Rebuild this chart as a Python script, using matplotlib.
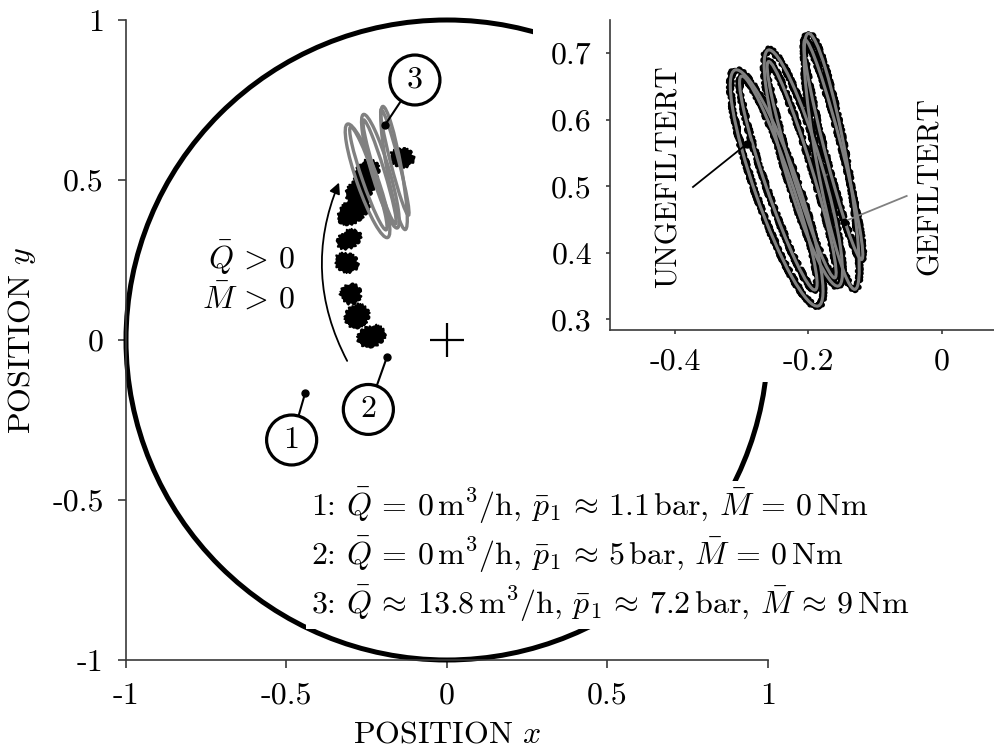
import matplotlib
matplotlib.use("Agg")
import matplotlib.pyplot as plt
from matplotlib.patches import Circle, Ellipse, FancyArrowPatch

plt.rcParams['font.family'] = 'cmr10'
plt.rcParams['mathtext.fontset'] = 'cm'
plt.rcParams['axes.unicode_minus'] = False
plt.rcParams['axes.formatter.use_mathtext'] = True

FS = 23
AXCOL = '#3a3a3a'
GRAY = '#808080'

# Measured trajectory blobs while ramping Q and M (centre, spread, tilt)
blob_x = [-0.305, -0.313, -0.300, -0.280, -0.235, -0.290, -0.270, -0.250, -0.140]
blob_y = [0.315, 0.242, 0.144, 0.075, 0.012, 0.405, 0.470, 0.520, 0.570]
blob_w = [0.075, 0.055, 0.060, 0.075, 0.085, 0.110, 0.095, 0.090, 0.055]
blob_h = [0.050, 0.070, 0.060, 0.065, 0.060, 0.065, 0.060, 0.065, 0.070]
blob_angle = [30, 70, 60, 45, 20, 40, 35, 60, 80]

# Operating point 3: orbit loops (centre, major axis, minor axis, tilt)
loop_cx = [-0.2475, -0.2450, -0.2075, -0.2100, -0.1650, -0.1625]
loop_cy = [0.4975, 0.5050, 0.5275, 0.5250, 0.5375, 0.5550]
loop_len = [0.376, 0.340, 0.370, 0.340, 0.391, 0.341]
loop_wid = [0.065, 0.038, 0.055, 0.030, 0.045, 0.026]
loop_ang = [-70.6, -71.0, -73.5, -73.0, -79.7, -75.6]

# Operating points and their labels
op_x = [-0.442, -0.187, -0.193]
op_y = [-0.166, -0.053, 0.672]
op_label_x = [-0.484, -0.245, -0.100]
op_label_y = [-0.3125, -0.217, 0.8125]
op_names = ['1', '2', '3']

legend_lines = [
    r'1: $\bar{Q}\,=\,0\,\mathrm{m}^3/\mathrm{h}$, $\bar{p}_1\,\approx\,1.1\,\mathrm{bar}$, $\bar{M}\,=\,0\,\mathrm{Nm}$',
    r'2: $\bar{Q}\,=\,0\,\mathrm{m}^3/\mathrm{h}$, $\bar{p}_1\,\approx\,5\,\mathrm{bar}$, $\bar{M}\,=\,0\,\mathrm{Nm}$',
    r'3: $\bar{Q}\,\approx\,13.8\,\mathrm{m}^3/\mathrm{h}$, $\bar{p}_1\,\approx\,7.2\,\mathrm{bar}$, $\bar{M}\,\approx\,9\,\mathrm{Nm}$',
]

main_ticks = [-1, -0.5, 0, 0.5, 1]
main_ticklabels = ['-1', '-0.5', '0', '0.5', '1']
inset_xticks = [-0.4, -0.2, 0]
inset_xticklabels = ['-0.4', '-0.2', '0']
inset_yticks = [0.3, 0.4, 0.5, 0.6, 0.7]
inset_yticklabels = ['0.3', '0.4', '0.5', '0.6', '0.7']

W, H = 995, 755
fig = plt.figure(figsize=(W / 100, H / 100), dpi=100)


def style_axes(a, tick_len, pad):
    for s in ['top', 'right']:
        a.spines[s].set_visible(False)
    for s in ['left', 'bottom']:
        a.spines[s].set_color(AXCOL)
        a.spines[s].set_linewidth(1.2)
    a.tick_params(direction='out', length=tick_len, width=1.2, color=AXCOL,
                  labelsize=FS, pad=pad)


# ---- main plot ----
ax = fig.add_axes([126 / W, 95 / H, 642 / W, 640 / H], zorder=1)
ax.set_xlim(-1, 1)
ax.set_ylim(-1, 1)
style_axes(ax, 6, 10)
ax.set_xticks(main_ticks)
ax.set_xticklabels(main_ticklabels)
ax.set_yticks(main_ticks)
ax.set_yticklabels(main_ticklabels)

ax.add_patch(Circle((0, 0), 1, fill=False, ec='black', lw=3.6, clip_on=False, zorder=2))
ax.plot(0, 0, '+', ms=24, mew=1.6, color='black', zorder=3)

for x, y, w, h, a in zip(blob_x, blob_y, blob_w, blob_h, blob_angle):
    e = Ellipse((x, y), w, h, angle=a, fc='black', ec='black', lw=1.5, zorder=3)
    e.set_sketch_params(1.5, 4, 3)
    e.set_joinstyle('round')
    ax.add_patch(e)

for cx, cy, l, wd, a in zip(loop_cx, loop_cy, loop_len, loop_wid, loop_ang):
    ax.add_patch(Ellipse((cx, cy), l, wd, angle=a, fill=False, ec=GRAY, lw=2.4, zorder=4))

arrow = FancyArrowPatch((-0.307, -0.073), (-0.333, 0.50), connectionstyle='arc3,rad=-0.24',
                        arrowstyle='-|>', mutation_scale=16, lw=1.3, color='black', zorder=3)
ax.add_patch(arrow)
ax.text(-0.474, 0.20, '$\\bar{Q}\\,>\\,0$\n$\\bar{M}\\,>\\,0$', ha='right', va='center',
        fontsize=FS, multialignment='right', linespacing=1.2)

for px, py, lx, ly, name in zip(op_x, op_y, op_label_x, op_label_y, op_names):
    ax.plot([px, lx], [py, ly], color='black', lw=1.5, zorder=5)
    ax.plot(px, py, 'o', ms=5, color='black', zorder=6)
    ax.add_patch(Circle((lx, ly), 0.078, fc='white', ec='black', lw=2.3, zorder=7))
    ax.text(lx, ly, name, ha='center', va='center', fontsize=FS, zorder=8)

ax.text(-0.425, -0.672, '\n'.join(legend_lines), ha='left', va='center', fontsize=FS,
        linespacing=1.3, zorder=9,
        bbox=dict(boxstyle='square,pad=0.15', fc='white', ec='none'))

fig.text(447 / W, 1 - 735 / H, 'POSITION $x$', ha='center', va='center', fontsize=FS)
fig.text(22 / W, 1 - 340 / H, 'POSITION $y$', ha='center', va='center', fontsize=FS,
         rotation=90)

# white backdrop for the zoomed view
cover = fig.add_axes([533 / W, 1 - 382 / H, 1 - 533 / W, 382 / H], zorder=5)
cover.set_facecolor('white')
cover.set_xticks([])
cover.set_yticks([])
for s in cover.spines.values():
    s.set_visible(False)

# ---- zoomed view of operating point 3 ----
ins = fig.add_axes([610 / W, 425 / H, 385 / W, 310 / H], zorder=6)
ins.set_xlim(-0.4975, 0.08)
ins.set_ylim(0.284, 0.75)
style_axes(ins, 3, 10)
ins.set_xticks(inset_xticks)
ins.set_xticklabels(inset_xticklabels)
ins.set_yticks(inset_yticks)
ins.set_yticklabels(inset_yticklabels)

for cx, cy, l, wd, a in zip(loop_cx, loop_cy, loop_len, loop_wid, loop_ang):
    raw = Ellipse((cx, cy), l, wd, angle=a, fill=False, ec='black', lw=3.8, zorder=2)
    raw.set_sketch_params(2, 2.5, 2)
    raw.set_joinstyle('round')
    ins.add_patch(raw)
for cx, cy, l, wd, a in zip(loop_cx, loop_cy, loop_len, loop_wid, loop_ang):
    ins.add_patch(Ellipse((cx, cy), l, wd, angle=a, fill=False, ec=GRAY, lw=2.2, zorder=3))

ins.plot([-0.373, -0.2925], [0.499, 0.5635], color='black', lw=1.3, zorder=4)
ins.plot(-0.2925, 0.5635, 'o', ms=5, color='black', zorder=5)
ins.plot([-0.0525, -0.1465], [0.4855, 0.447], color=GRAY, lw=1.3, zorder=4)
ins.plot(-0.1465, 0.447, 'o', ms=4.5, color='black', zorder=5)
ins.text(-0.409, 0.514, 'UNGEFILTERT', rotation=90, ha='center', va='center', fontsize=21.5)
ins.text(-0.0175, 0.50, 'GEFILTERT', rotation=90, ha='center', va='center', fontsize=21.5)

fig.savefig('out.png', dpi=100)
